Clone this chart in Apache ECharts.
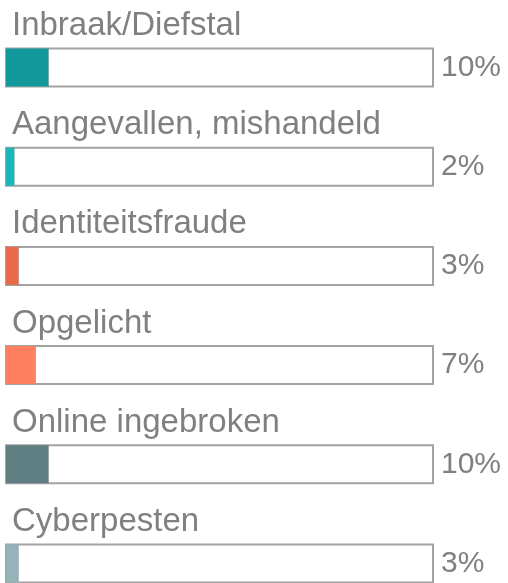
<!DOCTYPE html>
<html>
<head>
<meta charset="utf-8">
<script src="https://cdn.jsdelivr.net/npm/echarts@6/dist/echarts.min.js"></script>
<style>
    html, body { margin: 0; padding: 0; background: #fff; }
    #chart { width: 508px; height: 583px; }
</style>
</head>
<body>
<div id="chart"></div>
<script>
// categorieen en percentages
let categories = ['Inbraak/Diefstal', 'Aangevallen, mishandeld', 'Identiteitsfraude', 'Opgelicht', 'Online ingebroken', 'Cyberpesten'];
let values = [10, 2, 3, 7, 10, 3];
let barColors = ['#12999c', '#1ab7bb', '#e96a4b', '#fe8061', '#5f7f82', '#94b4b9'];
let pctLabels = values.map(function (v) { return v + '%'; });

let myChart = echarts.init(document.getElementById('chart'));
let option = {
    animation: false,
    grid: {
        left: 6,
        right: 75,
        top: 67.5,
        bottom: 19.5
    },
    xAxis: {
        type: 'value',
        min: 0,
        max: 100,
        show: false
    },
    yAxis: [
        {
            type: 'category',
            data: categories,
            inverse: true,
            boundaryGap: false,
            show: false
        },
        {
            // rechts: percentages
            type: 'category',
            data: pctLabels,
            inverse: true,
            boundaryGap: false,
            position: 'right',
            axisLine: {show: false},
            axisTick: {show: false},
            axisLabel: {
                margin: 8,
                color: '#808080',
                fontSize: 30,
                fontFamily: 'Liberation Sans, Arial, sans-serif',
                padding: [0, 0, 7, 0]
            }
        }
    ],
    series: [
        {
            type: 'bar',
            barWidth: 38,
            showBackground: true,
            backgroundStyle: {
                color: '#ffffff',
                borderColor: '#a3a3a3',
                borderWidth: 2
            },
            data: values.map(function (v, i) {
                return {value: v, itemStyle: {color: barColors[i]}};
            }),
            label: {
                show: true,
                position: [6, -6],
                align: 'left',
                verticalAlign: 'bottom',
                color: '#808080',
                fontSize: 33,
                fontFamily: 'Liberation Sans, Arial, sans-serif',
                formatter: function (p) {
                    return categories[p.dataIndex];
                }
            }
        }
    ]
};
myChart.setOption(option);
</script>
</body>
</html>
